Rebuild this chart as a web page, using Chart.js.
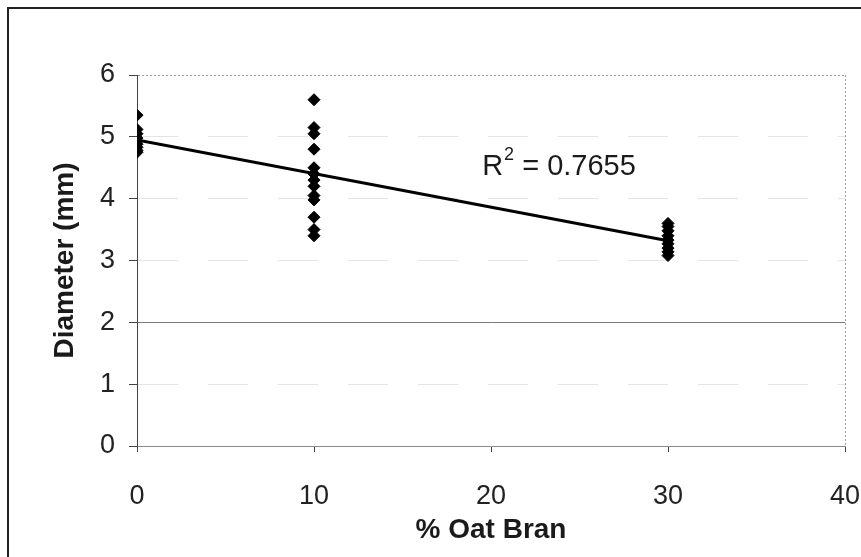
<!DOCTYPE html>
<html>
<head>
<meta charset="utf-8">
<title>Diameter vs % Oat Bran</title>
<script src="https://cdn.jsdelivr.net/npm/chart.js@4.4.1/dist/chart.umd.min.js"></script>
<style>
    html, body { margin: 0; padding: 0; background: #fff; }
    canvas { display: block; }
</style>
</head>
<body>
<canvas id="diamChart" width="861" height="557"></canvas>
<script>
// --------------------
// Data
// --------------------
const oatBranLevels = [0, 10, 30];
const diam0 = [5.35, 5.12, 5.05, 4.98, 4.93, 4.88, 4.83, 4.78, 4.75];
const diam10 = [5.6, 5.15, 5.05, 4.8, 4.5, 4.4, 4.3, 4.2, 4.05, 3.98, 3.7, 3.5, 3.4];
const diam30 = [3.6, 3.55, 3.48, 3.4, 3.33, 3.27, 3.2, 3.14, 3.08];

const trendX = [0, 30];
const trendY = [4.95, 3.32];
const rSquared = "0.7655";

const xTicks = [0, 10, 20, 30, 40];
const yTicks = [0, 1, 2, 3, 4, 5, 6];

const FONT = "'Liberation Sans', Arial, sans-serif";

// flatten groups into x/y points
const groups = [diam0, diam10, diam30];
const points = [];
groups.forEach((vals, i) => {
    vals.forEach(v => points.push({ x: oatBranLevels[i], y: v }));
});
const trendPoints = trendX.map((x, i) => ({ x, y: trendY[i] }));

// --------------------
// Outer frame + R² label
// --------------------
const framePlugin = {
    id: "frame",
    beforeDraw(chart) {
        const c = chart.ctx;
        c.save();
        c.fillStyle = "#fff";
        c.fillRect(0, 0, chart.width, chart.height);
        c.strokeStyle = "#222";
        c.lineWidth = 2;
        c.strokeRect(8, 8, chart.width + 20, chart.height + 20);
        c.restore();
    }
};

const r2Plugin = {
    id: "r2label",
    afterDatasetsDraw(chart) {
        const c = chart.ctx;
        const xs = chart.scales.x, ys = chart.scales.y;
        let px = xs.getPixelForValue(19.5);
        const py = ys.getPixelForValue(4.51);
        c.save();
        c.fillStyle = "#1a1a1a";
        c.textBaseline = "middle";
        c.textAlign = "left";
        c.font = `29px ${FONT}`;
        c.fillText("R", px, py);
        px += c.measureText("R").width + 1;
        c.font = `18px ${FONT}`;
        c.fillText("2", px, py - 12);
        px += c.measureText("2").width;
        c.font = `29px ${FONT}`;
        c.fillText(" = " + rSquared, px, py);
        c.restore();
    }
};

// --------------------
// Chart
// --------------------
const ctx = document.getElementById("diamChart").getContext("2d");

new Chart(ctx, {
    type: "scatter",
    data: {
        datasets: [
            {
                label: "Diameter",
                data: points,
                pointStyle: "rectRot",
                pointRadius: 6,
                backgroundColor: "#000",
                borderColor: "#000",
                borderWidth: 1,
                order: 2
            },
            {
                label: "Trend",
                data: trendPoints,
                showLine: true,
                pointRadius: 0,
                borderColor: "#000",
                borderWidth: 3,
                order: 1
            }
        ]
    },
    options: {
        responsive: false,
        animation: false,
        events: [],
        layout: { padding: { top: 75, right: 16, left: 0, bottom: 0 } },
        plugins: {
            legend: { display: false },
            tooltip: { enabled: false }
        },
        scales: {
            x: {
                type: "linear",
                min: 0,
                max: 40,
                afterBuildTicks: s => { s.ticks = xTicks.map(v => ({ value: v })); },
                afterFit: s => {
                    s.height = 111;
                    // end labels may hang past the plot edges
                    s.paddingLeft = 0;
                    s.paddingRight = 0;
                },
                ticks: {
                    padding: 28,
                    color: "#222",
                    font: { family: FONT, size: 27 }
                },
                grid: {
                    color: c => (c.tick && c.tick.value === 40) ? "#9a9a9a" : "rgba(0,0,0,0)",
                    tickColor: "#444",
                    tickLength: 6
                },
                border: {
                    color: "#8a8a8a",
                    dash: c => (c.tick && c.tick.value === 40) ? [2, 2] : []
                },
                title: {
                    display: true,
                    text: "% Oat Bran",
                    color: "#1a1a1a",
                    font: { family: FONT, size: 28, weight: "bold" },
                    padding: { top: 0, bottom: 10 }
                }
            },
            y: {
                min: 0,
                max: 6,
                afterBuildTicks: s => { s.ticks = yTicks.map(v => ({ value: v })); },
                afterFit: s => { s.width = 137; },
                ticks: {
                    padding: 14,
                    color: "#222",
                    font: { family: FONT, size: 27 }
                },
                grid: {
                    color: c => {
                        if (!c.tick) return "#888";
                        if (c.tick.value === 2) return "#7a7a7a";
                        if (c.tick.value === 6) return "#9a9a9a";
                        if (c.tick.value === 0) return "rgba(0,0,0,0)";
                        return "#e4e4e4";
                    },
                    tickColor: "#444",
                    tickLength: 8
                },
                border: {
                    color: "#444",
                    dash: c => {
                        if (!c.tick) return [];
                        if (c.tick.value === 6) return [2, 2];
                        if (c.tick.value === 2) return [];
                        return [40, 30];
                    }
                },
                title: {
                    display: true,
                    text: "Diameter (mm)",
                    color: "#1a1a1a",
                    font: { family: FONT, size: 28, weight: "bold" },
                    padding: { top: 48, bottom: 0 }
                }
            }
        }
    },
    plugins: [framePlugin, r2Plugin]
});
</script>
</body>
</html>
